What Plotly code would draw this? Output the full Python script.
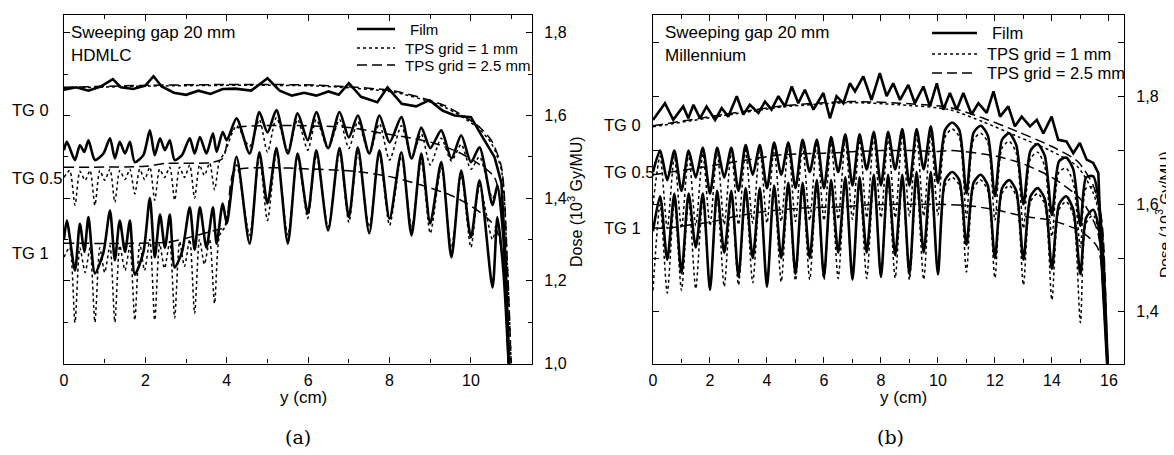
import plotly.graph_objects as go

W, H = 1174, 455
OFF = 8  # default page body margin
FW, FH = W - OFF, H - OFF

# ---------------- Panel (a): HDMLC ----------------
xa_tg0_film = [0, 0.3, 0.6, 0.9, 1.2, 1.4, 1.7, 2.0, 2.2, 2.4, 2.7, 3.0, 3.3, 3.6, 3.9, 4.2, 4.6, 5.0, 5.3, 5.6,
               5.9, 6.2, 6.5, 6.75, 7.0, 7.3, 7.7, 7.95, 8.3, 8.65, 8.98, 9.3, 9.6, 10.0, 10.26, 10.58, 10.75, 10.85, 10.94]
ya_tg0_film = [1.662, 1.668, 1.660, 1.670, 1.688, 1.668, 1.664, 1.672, 1.695, 1.670, 1.655, 1.650, 1.660, 1.652,
               1.664, 1.665, 1.660, 1.690, 1.660, 1.648, 1.655, 1.648, 1.658, 1.650, 1.678, 1.645, 1.632, 1.668,
               1.628, 1.622, 1.637, 1.612, 1.600, 1.596, 1.552, 1.499, 1.436, 1.25, 0.99]

xa_tg0_tps = [0, 2.1, 4.56, 6.28, 8.12, 9.35, 10.16, 10.5, 10.75, 10.9, 10.99]
ya_tg0_tps1 = [1.666, 1.671, 1.673, 1.671, 1.656, 1.620, 1.571, 1.533, 1.467, 1.225, 0.99]
ya_tg0_tps25 = [1.668, 1.673, 1.675, 1.673, 1.659, 1.624, 1.576, 1.540, 1.475, 1.23, 0.99]

xa_film_lo = [0, 0.07, 0.27, 0.39, 0.5, 0.6, 0.76, 0.97, 1.13, 1.25, 1.37, 1.5, 1.62, 1.74, 1.95, 2.11, 2.23, 2.36,
              2.48, 2.6, 2.72, 2.9, 3.09, 3.21, 3.34, 3.5, 3.66, 3.75, 3.9, 4.0]
xa_film_hi = [4.24, 4.56, 4.8, 5.0, 5.22, 5.5, 5.74, 5.99, 6.2, 6.49, 6.77, 7.0, 7.22, 7.5, 7.75, 8.0, 8.29, 8.54,
              8.78, 9.0, 9.27, 9.52, 9.76, 10.0, 10.21, 10.53, 10.65, 10.8, 10.93]

ya_tg05_film_lo = [1.516, 1.536, 1.492, 1.528, 1.512, 1.540, 1.492, 1.508, 1.545, 1.496, 1.536, 1.508, 1.536, 1.487,
                   1.504, 1.564, 1.504, 1.545, 1.516, 1.540, 1.492, 1.504, 1.545, 1.508, 1.548, 1.508, 1.557, 1.512,
                   1.560, 1.540]
ya_tg05_film_hi = [1.593, 1.508, 1.608, 1.559, 1.613, 1.508, 1.605, 1.540, 1.608, 1.521, 1.608, 1.547, 1.600, 1.508,
                   1.600, 1.535, 1.596, 1.496, 1.571, 1.521, 1.564, 1.496, 1.552, 1.487, 1.523, 1.383, 1.431, 1.30, 0.99]
ya_tg1_film_lo = [1.30, 1.346, 1.225, 1.338, 1.27, 1.354, 1.218, 1.269, 1.370, 1.25, 1.346, 1.27, 1.346, 1.215,
                  1.269, 1.40, 1.257, 1.36, 1.28, 1.36, 1.232, 1.27, 1.378, 1.275, 1.378, 1.28, 1.378, 1.29, 1.387, 1.339]
ya_tg1_film_hi = [1.50, 1.29, 1.511, 1.387, 1.521, 1.29, 1.508, 1.363, 1.516, 1.322, 1.521, 1.354, 1.523, 1.315,
                  1.516, 1.35, 1.511, 1.31, 1.508, 1.339, 1.487, 1.257, 1.467, 1.305, 1.443, 1.184, 1.354, 1.22, 0.99]

xa_tps_lo = [0, 0.14, 0.27, 0.39, 0.52, 0.64, 0.76, 0.88, 1.0, 1.13, 1.25, 1.37, 1.5, 1.62, 1.74, 1.86, 1.98, 2.11,
             2.23, 2.35, 2.47, 2.6, 2.72, 2.84, 2.96, 3.09, 3.21, 3.33, 3.45, 3.58, 3.7, 3.82, 3.95]
ya_tg05_tps1_lo = [1.45, 1.467, 1.383, 1.465, 1.443, 1.467, 1.383, 1.467, 1.443, 1.47, 1.39, 1.467, 1.445, 1.47,
                   1.41, 1.47, 1.445, 1.475, 1.395, 1.47, 1.45, 1.475, 1.395, 1.475, 1.45, 1.48, 1.40, 1.48, 1.455,
                   1.485, 1.42, 1.49, 1.51]
ya_tg1_tps1_lo = [1.257, 1.281, 1.099, 1.28, 1.22, 1.28, 1.10, 1.28, 1.22, 1.285, 1.10, 1.285, 1.225, 1.285, 1.105,
                  1.29, 1.225, 1.30, 1.105, 1.29, 1.23, 1.295, 1.11, 1.295, 1.235, 1.30, 1.121, 1.30, 1.24, 1.30,
                  1.145, 1.31, 1.33]
ya_tg05_tps1_hi = [1.575, 1.525, 1.59, 1.511, 1.595, 1.515, 1.59, 1.516, 1.59, 1.52, 1.59, 1.52, 1.585, 1.508, 1.58,
                   1.492, 1.575, 1.50, 1.555, 1.48, 1.545, 1.49, 1.53, 1.47, 1.50, 1.40, 1.42, 1.30, 0.99]
ya_tg1_tps1_hi = [1.48, 1.31, 1.50, 1.346, 1.51, 1.31, 1.50, 1.351, 1.505, 1.33, 1.51, 1.341, 1.51, 1.33, 1.505,
                  1.334, 1.50, 1.33, 1.49, 1.315, 1.475, 1.28, 1.455, 1.281, 1.43, 1.30, 1.34, 1.22, 0.99]

xa_tg05_tps25 = [0, 2.0, 2.5, 3.6, 3.9, 4.05, 4.2, 7.0, 7.7, 8.54, 9.1, 9.76, 10.17, 10.58, 10.8, 10.95]
ya_tg05_tps25 = [1.475, 1.477, 1.484, 1.486, 1.496, 1.55, 1.569, 1.571, 1.559, 1.545, 1.533, 1.508, 1.484, 1.45, 1.33, 0.99]
xa_tg1_tps25 = [0, 2.5, 3.0, 3.7, 3.95, 4.1, 4.2, 6.8, 7.4, 8.1, 8.8, 9.5, 9.9, 10.3, 10.6, 10.8, 10.95]
ya_tg1_tps25 = [1.291, 1.293, 1.303, 1.322, 1.33, 1.44, 1.467, 1.467, 1.462, 1.450, 1.431, 1.407, 1.387, 1.36, 1.33, 1.25, 0.99]

# ---------------- Panel (b): Millennium ----------------
xb_tg0_film = [0, 0.42, 0.71, 1.06, 1.24, 1.42, 1.65, 1.88, 2.18, 2.41, 2.64, 2.94, 3.17, 3.40, 3.70, 3.93, 4.16,
               4.40, 4.63, 4.87, 5.10, 5.33, 5.63, 5.98, 6.21, 6.44, 6.68, 6.91, 7.09, 7.38, 7.67, 7.96, 8.20, 8.43,
               8.67, 8.96, 9.19, 9.49, 9.72, 9.96, 10.19, 10.42, 10.66, 10.89, 11.18, 11.42, 11.71, 11.95, 12.18,
               12.47, 12.70, 12.94, 13.23, 13.47, 13.70, 13.99, 14.22, 14.51, 14.75, 14.98, 15.22, 15.45, 15.63,
               15.74, 15.95]
yb_tg0_film = [1.757, 1.788, 1.757, 1.782, 1.760, 1.785, 1.760, 1.782, 1.757, 1.779, 1.763, 1.801, 1.767, 1.785,
               1.770, 1.791, 1.776, 1.801, 1.782, 1.819, 1.788, 1.813, 1.776, 1.807, 1.760, 1.801, 1.788, 1.825,
               1.810, 1.838, 1.794, 1.844, 1.801, 1.825, 1.794, 1.822, 1.788, 1.819, 1.782, 1.825, 1.776, 1.807,
               1.776, 1.807, 1.767, 1.788, 1.770, 1.810, 1.763, 1.782, 1.745, 1.763, 1.745, 1.757, 1.732, 1.763,
               1.720, 1.717, 1.695, 1.714, 1.683, 1.677, 1.658, 1.497, 1.29]

xb_tg0_tps = [0, 2.25, 4.57, 6.9, 8.67, 10.4, 11.6, 12.8, 13.9, 14.9, 15.45, 15.75, 15.95]
yb_tg0_tps1 = [1.744, 1.763, 1.781, 1.789, 1.785, 1.776, 1.753, 1.726, 1.701, 1.670, 1.621, 1.558, 1.29]
yb_tg0_tps25 = [1.746, 1.765, 1.783, 1.791, 1.788, 1.780, 1.760, 1.735, 1.710, 1.680, 1.635, 1.57, 1.29]

xb_lo = [0, 0.25, 0.5, 0.75, 1.0, 1.25, 1.5, 1.75, 2.0, 2.25, 2.5, 2.75, 3.0, 3.25, 3.5, 3.75, 4.0, 4.25, 4.5, 4.75,
         5.0, 5.25, 5.5, 5.75, 6.0, 6.25, 6.5, 6.75, 7.0, 7.25, 7.5, 7.75, 8.0, 8.25, 8.5, 8.75, 9.0, 9.25, 9.5,
         9.75, 10.0]
xb_hi = [10.25, 10.5, 10.75, 11.0, 11.25, 11.5, 11.75, 12.0, 12.25, 12.5, 12.75, 13.0, 13.25, 13.5, 13.75, 14.0,
         14.25, 14.5, 14.75, 15.0, 15.2, 15.45, 15.65, 15.8, 15.97]

yb_tg1_film_lo = [1.55, 1.615, 1.497, 1.62, 1.472, 1.62, 1.52, 1.62, 1.441, 1.625, 1.51, 1.625, 1.465, 1.63, 1.50,
                  1.63, 1.447, 1.635, 1.50, 1.64, 1.47, 1.64, 1.50, 1.645, 1.465, 1.645, 1.51, 1.65, 1.46, 1.65,
                  1.51, 1.655, 1.465, 1.655, 1.505, 1.655, 1.47, 1.66, 1.51, 1.66, 1.47]
yb_tg1_tps1_lo = [1.44, 1.60, 1.435, 1.605, 1.44, 1.61, 1.443, 1.61, 1.44, 1.615, 1.447, 1.615, 1.45, 1.62, 1.454,
                  1.62, 1.454, 1.625, 1.456, 1.63, 1.458, 1.63, 1.46, 1.635, 1.46, 1.635, 1.462, 1.64, 1.462, 1.64,
                  1.462, 1.645, 1.465, 1.645, 1.463, 1.645, 1.46, 1.645, 1.46, 1.645, 1.47]
yb_tg05_film_lo = [1.66, 1.70, 1.645, 1.70, 1.625, 1.70, 1.65, 1.705, 1.62, 1.705, 1.65, 1.705, 1.625, 1.71, 1.655,
                   1.71, 1.63, 1.715, 1.655, 1.715, 1.63, 1.72, 1.66, 1.72, 1.63, 1.725, 1.66, 1.73, 1.635, 1.73,
                   1.665, 1.735, 1.635, 1.735, 1.665, 1.74, 1.635, 1.74, 1.665, 1.745, 1.64]
yb_tg05_tps1_lo = [1.60, 1.69, 1.555, 1.69, 1.555, 1.695, 1.56, 1.695, 1.56, 1.70, 1.562, 1.70, 1.562, 1.70, 1.565,
                   1.705, 1.565, 1.705, 1.568, 1.71, 1.568, 1.71, 1.57, 1.715, 1.57, 1.715, 1.572, 1.72, 1.572, 1.72,
                   1.575, 1.725, 1.575, 1.725, 1.575, 1.73, 1.578, 1.73, 1.578, 1.73, 1.58]

yb_tg1_film_hi = [1.645, 1.66, 1.645, 1.525, 1.64, 1.655, 1.635, 1.50, 1.63, 1.645, 1.625, 1.497, 1.615, 1.63, 1.61,
                  1.48, 1.60, 1.615, 1.59, 1.47, 1.575, 1.59, 1.555, 1.45, 1.29]
yb_tg1_tps1_hi = [1.635, 1.65, 1.635, 1.474, 1.63, 1.645, 1.625, 1.463, 1.62, 1.635, 1.615, 1.45, 1.605, 1.62, 1.60,
                  1.422, 1.59, 1.605, 1.58, 1.38, 1.565, 1.58, 1.545, 1.45, 1.29]
yb_tg05_film_hi = [1.738, 1.752, 1.738, 1.62, 1.733, 1.746, 1.728, 1.615, 1.72, 1.732, 1.71, 1.60, 1.70, 1.712, 1.69,
                   1.58, 1.68, 1.687, 1.665, 1.56, 1.65, 1.652, 1.605, 1.50, 1.29]
yb_tg05_tps1_hi = [1.725, 1.74, 1.725, 1.575, 1.72, 1.732, 1.715, 1.57, 1.705, 1.717, 1.695, 1.555, 1.685, 1.697,
                   1.67, 1.54, 1.66, 1.667, 1.64, 1.52, 1.63, 1.632, 1.585, 1.48, 1.29]

xb_tg05_tps25 = [0, 1.5, 3.0, 4.5, 6.0, 8.0, 9.0, 10.0, 10.5, 12.0, 13.0, 14.0, 15.0, 15.6, 15.95]
yb_tg05_tps25 = [1.655, 1.667, 1.68, 1.692, 1.695, 1.70, 1.70, 1.698, 1.70, 1.69, 1.675, 1.65, 1.61, 1.55, 1.29]
xb_tg1_tps25 = [0, 0.6, 1.3, 2.0, 2.85, 3.85, 5.2, 6.5, 7.6, 9.0, 10.0, 11.0, 12.0, 13.0, 14.0, 15.0, 15.6, 15.95]
yb_tg1_tps25 = [1.556, 1.556, 1.562, 1.567, 1.577, 1.586, 1.593, 1.595, 1.599, 1.60, 1.60, 1.598, 1.59, 1.578,
                1.57, 1.55, 1.52, 1.29]

legend_labels = ["Film", "TPS grid = 1 mm", "TPS grid = 2.5 mm"]
legend_kinds = ["film", "tps1", "tps25"]

# ---------------- figure ----------------
FONT = "Liberation Sans, Arial, sans-serif"
STY = {
    "film": dict(color="black", width=2.6),
    "tps1": dict(color="black", width=1.5, dash="dot"),
    "tps25": dict(color="black", width=1.5, dash="10px,5px"),
}

fig = go.Figure()


def add(x, y, kind, ax, shape="spline"):
    line = dict(STY[kind])
    line["shape"] = shape
    if shape == "spline":
        line["smoothing"] = 0.7
    fig.add_trace(go.Scatter(x=x, y=y, mode="lines", line=line, hoverinfo="skip", showlegend=False,
                             xaxis="x" if ax == "a" else "x2", yaxis="y" if ax == "a" else "y2"))


# panel a
add(xa_tg0_tps, ya_tg0_tps25, "tps25", "a")
add(xa_tg0_tps, ya_tg0_tps1, "tps1", "a")
add(xa_tg05_tps25, ya_tg05_tps25, "tps25", "a")
add(xa_tg1_tps25, ya_tg1_tps25, "tps25", "a")
add(xa_tps_lo + xa_film_hi, ya_tg05_tps1_lo + ya_tg05_tps1_hi, "tps1", "a")
add(xa_tps_lo + xa_film_hi, ya_tg1_tps1_lo + ya_tg1_tps1_hi, "tps1", "a")
add(xa_tg0_film, ya_tg0_film, "film", "a", shape="linear")
add(xa_film_lo + xa_film_hi, ya_tg05_film_lo + ya_tg05_film_hi, "film", "a")
add(xa_film_lo + xa_film_hi, ya_tg1_film_lo + ya_tg1_film_hi, "film", "a")

# panel b
add(xb_tg0_tps, yb_tg0_tps25, "tps25", "b")
add(xb_tg0_tps, yb_tg0_tps1, "tps1", "b")
add(xb_tg05_tps25, yb_tg05_tps25, "tps25", "b")
add(xb_tg1_tps25, yb_tg1_tps25, "tps25", "b")
add(xb_lo + xb_hi, yb_tg05_tps1_lo + yb_tg05_tps1_hi, "tps1", "b")
add(xb_lo + xb_hi, yb_tg1_tps1_lo + yb_tg1_tps1_hi, "tps1", "b")
add(xb_tg0_film, yb_tg0_film, "film", "b", shape="linear")
add(xb_lo + xb_hi, yb_tg05_film_lo + yb_tg05_film_hi, "film", "b")
add(xb_lo + xb_hi, yb_tg1_film_lo + yb_tg1_film_hi, "film", "b")


def fx(p):
    return (p - OFF) / FW


def fy(p):
    return 1 - (p - OFF) / FH


axis_common = dict(showline=True, linecolor="black", linewidth=1.2, mirror="ticks", ticks="inside",
                   ticklen=6, tickwidth=1.2, tickcolor="black", showgrid=False, zeroline=False,
                   automargin=False, tickfont=dict(family=FONT, size=16, color="black"))

ydom = [fy(363.5), fy(15)]
fig.update_layout(
    width=FW, height=FH, margin=dict(l=0, r=0, t=0, b=0, pad=0), autosize=False,
    paper_bgcolor="white", plot_bgcolor="white", separators=",.",
    font=dict(family=FONT, color="black"), showlegend=False,
    xaxis=dict(domain=[fx(64), fx(532)], range=[0, 11.5], anchor="y", dtick=2, tick0=0,
               minor=dict(dtick=1, ticklen=4, ticks="inside", tickcolor="black"), ticklabelstandoff=2,
               **axis_common),
    yaxis=dict(domain=ydom, range=[1.0, 1.843], anchor="x", side="right", dtick=0.2, tick0=1.0,
               tickformat=".1f", minor=dict(dtick=0.1, ticklen=4, ticks="inside", tickcolor="black"),
               ticklabelstandoff=8, **axis_common),
    xaxis2=dict(domain=[fx(653), fx(1124)], range=[0, 16.53], anchor="y2", dtick=2, tick0=0,
                minor=dict(dtick=1, ticklen=4, ticks="inside", tickcolor="black"), ticklabelstandoff=2,
                **axis_common),
    yaxis2=dict(domain=ydom, range=[1.304, 1.952], anchor="x2", side="right",
                tickvals=[1.4, 1.6, 1.8], tickformat=".1f",
                minor=dict(tickvals=[1.3, 1.5, 1.7, 1.9], ticklen=6, ticks="inside", tickcolor="black"),
                ticklabelstandoff=8, **axis_common),
)

ann = []
shapes = []


def note(text, x, y, size=17, xanchor="left", family=FONT, angle=0):
    ann.append(dict(text=text, x=fx(x), y=fy(y), xref="paper", yref="paper", showarrow=False,
                    xanchor=xanchor, yanchor="middle", textangle=angle,
                    font=dict(family=family, size=size, color="black")))


def legend_block(x0, x1, xt, ys, size):
    for i, yy in enumerate(ys):
        st = STY[legend_kinds[i]]
        shapes.append(dict(type="line", xref="paper", yref="paper", x0=fx(x0), x1=fx(x1), y0=fy(yy), y1=fy(yy),
                           line=dict(color="black", width=st["width"], dash=st.get("dash", "solid"))))
        note(legend_labels[i], xt + (5 if i == 0 else 0), yy, size=size)


legend_block(357, 395, 403, [29, 48, 65], 15)
legend_block(932, 977, 985, [33, 54, 73], 16.5)

note("Sweeping gap 20 mm", 69, 33)
note("HDMLC", 69, 55)
note("Sweeping gap 20 mm", 663, 33)
note("Millennium", 663, 55)
note("TG 0", 10, 110, size=16.5)
note("TG 0.5", 10, 178, size=16.5)
note("TG 1", 10, 253, size=16.5)
note("TG 0", 602, 125, size=16.5)
note("TG 0.5", 602, 172, size=16.5)
note("TG 1", 602, 228, size=16.5)
note("y (cm)", 303, 397, size=17, xanchor="center")
note("y (cm)", 903, 397, size=17, xanchor="center")
note("(a)", 298, 437, size=19, xanchor="center", family="DejaVu Serif, serif")
note("(b)", 890, 437, size=19, xanchor="center", family="DejaVu Serif, serif")
note("Dose (10<sup>3</sup> Gy/MU)", 575, 202, size=16, xanchor="center", angle=-90)
note("Dose (10<sup>3</sup> Gy/MU)", 1163, 215, size=15.5, xanchor="center", angle=-90)
fig.update_layout(annotations=ann, shapes=shapes)

fig.write_html("out.html")
